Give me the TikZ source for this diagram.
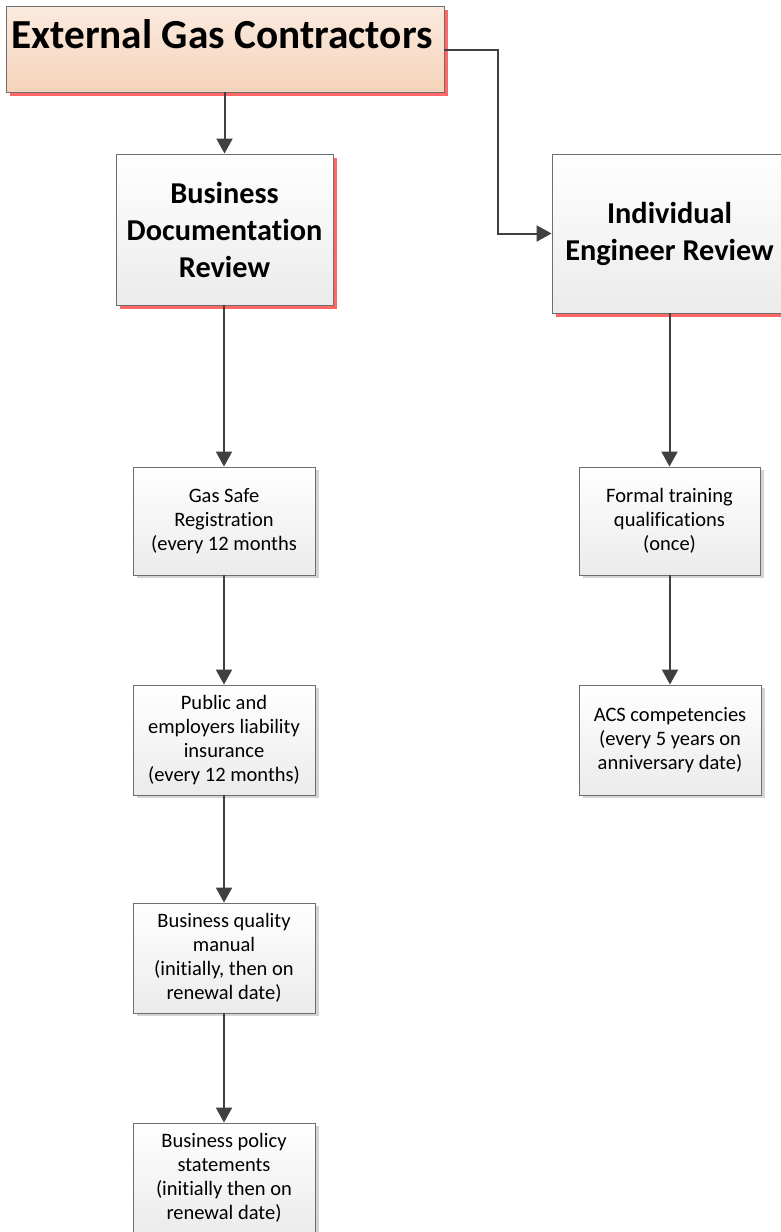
\documentclass[tikz,border=0pt]{standalone}
\usepackage{fontspec}
\setmainfont{Carlito}[Ligatures={NoCommon}]
\usetikzlibrary{arrows.meta,shadows,shadings}
\definecolor{linec}{HTML}{404040}
\definecolor{boxline}{HTML}{6E6E6E}
\definecolor{redsh}{HTML}{FF6666}
\definecolor{graysh}{HTML}{D4D4D4}
\definecolor{peachtop}{HTML}{FBEADF}
\definecolor{peachbot}{HTML}{F5D3BA}
\definecolor{greybot}{HTML}{EBEBEB}
\begin{document}
\begin{tikzpicture}[x=1pt,y=-1pt,
 basebox/.style={rectangle, draw=boxline, line width=0.9pt, align=center, inner sep=0pt, top color=white, bottom color=greybot, text=black},
 hdrbox/.style={basebox, font=\fontsize{30.3}{37}\selectfont\bfseries, general shadow={fill=redsh, shadow xshift=4pt, shadow yshift=-4pt}},
 stepbox/.style={basebox, font=\fontsize{20.5}{24}\selectfont, minimum width=182pt, general shadow={fill=graysh, shadow xshift=4pt, shadow yshift=-3pt}},
 conn/.style={draw=linec, line width=2pt},
 arr/.style={conn, -{Triangle[length=15pt,width=16pt]}}
]
\clip (0,0) rectangle (781,1232);
\fill[white] (0,0) rectangle (781,1232);

% top box
\node[basebox, top color=peachtop, bottom color=peachbot, minimum width=438pt, minimum height=86pt,
  general shadow={fill=redsh, shadow xshift=4pt, shadow yshift=-4pt}] (egc) at (225,49) {};
\node[anchor=base, font=\fontsize{41.3}{49}\selectfont\bfseries, inner sep=0pt] (egctext) at (222,48) {External Gas Contractors};

% headers
\node[hdrbox, minimum width=217pt, minimum height=151pt] (bdr) at (224.5,229.5) {Business\\Documentation\\Review};
\node[hdrbox, minimum width=235pt, minimum height=159pt] (ier) at (669.5,233.5) {Individual\\Engineer Review};

% left column
\node[stepbox, minimum height=108pt] (gas) at (224,521) {Gas Safe\\Registration\\(every 12 months};
\node[stepbox, minimum height=110pt] (pub) at (224,740) {Public and\\employers liability\\insurance\\(every 12 months)};
\node[stepbox, minimum height=110pt] (qual) at (224,958) {Business quality\\manual\\(initially, then on\\renewal date)};
\node[stepbox, minimum height=110pt] (pol) at (224,1178) {Business policy\\statements\\(initially then on\\renewal date)};

% right column
\node[stepbox, minimum width=181pt, minimum height=108pt] (form) at (669.5,521) {Formal training\\qualifications\\(once)};
\node[stepbox, minimum height=110pt] (acs) at (670,740) {ACS competencies\\(every 5 years on\\anniversary date)};

% connectors
\coordinate (bend) at (498,50);
\draw[arr] (egc.south -| bdr.north) -- (bdr.north);
\draw[arr] (egc.east |- bend) -- (bend) -- (bend |- ier.west) -- (ier.west);
\draw[arr] (bdr.south -| gas.north) -- (gas.north);
\draw[arr] (gas.south) -- (pub.north);
\draw[arr] (pub.south) -- (qual.north);
\draw[arr] (qual.south) -- (pol.north);
\draw[arr] (ier.south -| form.north) -- (form.north);
\draw[arr] (form.south -| acs.north) -- (acs.north);
\end{tikzpicture}
\end{document}
